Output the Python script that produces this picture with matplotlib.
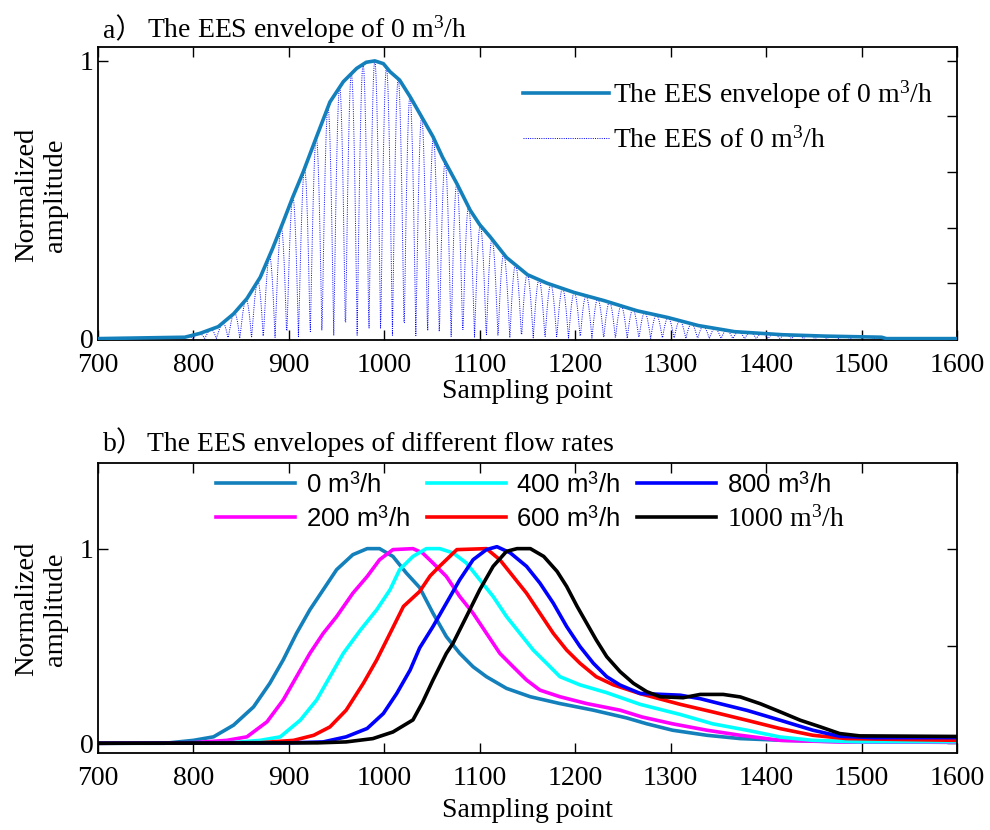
import numpy as np
import matplotlib
matplotlib.use("Agg")
import matplotlib.pyplot as plt

plt.rcParams['font.family'] = ['Liberation Serif', 'Noto Sans CJK SC']
plt.rcParams['mathtext.fontset'] = 'custom'
plt.rcParams['mathtext.rm'] = 'Liberation Serif'
plt.rcParams['mathtext.it'] = 'Liberation Serif:italic'
plt.rcParams['mathtext.sf'] = 'Liberation Sans'

# ---- (a) EES envelope of 0 m3/h ----
env_s = [700, 791, 807, 826, 842, 856, 870, 883, 894, 904, 915, 929, 943, 957, 971, 981,
         990, 999, 1006, 1016, 1027, 1041, 1051, 1061, 1076, 1090, 1100, 1111, 1128,
         1150, 1170, 1199, 1230, 1265, 1297, 1329, 1367, 1417, 1462, 1521, 1526, 1600]
env_v = [0, 0.005, 0.019, 0.043, 0.089, 0.144, 0.221, 0.325, 0.42, 0.509, 0.60, 0.727,
         0.852, 0.925, 0.973, 0.995, 1.0, 0.99, 0.961, 0.931, 0.871, 0.787, 0.727, 0.653,
         0.558, 0.462, 0.41, 0.366, 0.292, 0.23, 0.20, 0.166, 0.137, 0.10, 0.076, 0.047,
         0.025, 0.014, 0.009, 0.005, 0, 0]
carrier_period = 12.3   # samples per carrier cycle
carrier_peak = 990      # sample of the central carrier crest

# ---- (b) envelopes for the different flow rates ----
flow_labels = ['0', '200', '400', '600', '800', '1000']

q0_s = [700, 770, 800, 821, 842, 863, 880, 894, 908, 922, 936, 950, 967, 982, 995, 1009,
        1023, 1037, 1051, 1065, 1079, 1093, 1107, 1128, 1153, 1184, 1219, 1254, 1275,
        1302, 1338, 1373, 1418, 1488, 1600]
q0_v = [0, 0, 0.015, 0.033, 0.093, 0.187, 0.308, 0.428, 0.565, 0.686, 0.789, 0.892, 0.969,
        1.0, 1.0, 0.96, 0.875, 0.80, 0.668, 0.548, 0.462, 0.393, 0.342, 0.282, 0.239,
        0.204, 0.170, 0.13, 0.10, 0.067, 0.041, 0.024, 0.015, 0.007, 0.005]

q200_s = [700, 800, 835, 856, 877, 894, 908, 922, 936, 950, 967, 982, 995, 1009, 1030,
          1040, 1051, 1065, 1079, 1093, 1107, 1121, 1135, 1149, 1163, 1184, 1212, 1247,
          1270, 1302, 1338, 1373, 1415, 1477, 1600]
q200_v = [0, 0.003, 0.015, 0.033, 0.110, 0.222, 0.342, 0.462, 0.565, 0.651, 0.771, 0.857,
          0.943, 0.995, 1.0, 0.978, 0.926, 0.857, 0.754, 0.668, 0.565, 0.462, 0.393, 0.325,
          0.273, 0.239, 0.204, 0.170, 0.135, 0.10, 0.067, 0.041, 0.015, 0.007, 0.005]

q400_s = [700, 840, 870, 891, 912, 929, 943, 957, 975, 992, 1006, 1016, 1030, 1044, 1058,
          1072, 1086, 1100, 1114, 1128, 1142, 1156, 1170, 1184, 1205, 1233, 1268, 1310,
          1344, 1380, 1415, 1449, 1495, 1600]
q400_v = [0, 0.003, 0.015, 0.033, 0.119, 0.222, 0.342, 0.462, 0.582, 0.686, 0.789, 0.892,
          0.960, 1.0, 1.0, 0.978, 0.926, 0.840, 0.754, 0.651, 0.565, 0.479, 0.411, 0.342,
          0.300, 0.260, 0.200, 0.148, 0.10, 0.067, 0.032, 0.015, 0.008, 0.008]

q600_s = [700, 870, 905, 926, 943, 960, 978, 992, 1006, 1020, 1037, 1048, 1058, 1076, 1107,
          1121, 1135, 1149, 1163, 1177, 1191, 1205, 1222, 1240, 1268, 1310, 1344, 1380,
          1415, 1449, 1484, 1548, 1600]
q600_v = [0, 0.003, 0.015, 0.041, 0.084, 0.170, 0.308, 0.428, 0.565, 0.703, 0.78, 0.86,
          0.91, 0.995, 1.0, 0.943, 0.857, 0.771, 0.668, 0.565, 0.479, 0.411, 0.342, 0.300,
          0.255, 0.20, 0.161, 0.118, 0.075, 0.041, 0.024, 0.019, 0.015]

q800_s = [700, 900, 936, 960, 982, 999, 1013, 1027, 1037, 1051, 1065, 1079, 1093, 1107,
          1118, 1132, 1149, 1163, 1177, 1191, 1205, 1219, 1233, 1247, 1268, 1310, 1331,
          1352, 1380, 1415, 1449, 1477, 1512, 1600]
q800_v = [0, 0.002, 0.007, 0.033, 0.076, 0.153, 0.256, 0.376, 0.49, 0.600, 0.720, 0.840,
          0.943, 0.995, 1.01, 0.978, 0.909, 0.823, 0.720, 0.600, 0.497, 0.411, 0.342, 0.299,
          0.256, 0.247, 0.229, 0.203, 0.169, 0.118, 0.067, 0.036, 0.029, 0.029]

q1000_s = [700, 930, 960, 988, 1009, 1030, 1040, 1051, 1065, 1072, 1086, 1100, 1114, 1128,
           1139, 1153, 1167, 1181, 1191, 1202, 1212, 1222, 1233, 1247, 1261, 1275, 1289,
           1313, 1331, 1355, 1373, 1394, 1415, 1436, 1457, 1477, 1498, 1600]
q1000_v = [0, 0.002, 0.007, 0.024, 0.058, 0.12, 0.21, 0.325, 0.462, 0.514, 0.651, 0.789,
           0.909, 0.986, 1.0, 1.0, 0.960, 0.883, 0.806, 0.703, 0.617, 0.531, 0.445, 0.368,
           0.308, 0.265, 0.239, 0.234, 0.251, 0.251, 0.238, 0.203, 0.161, 0.118, 0.084,
           0.050, 0.038, 0.035]

flow_s = [q0_s, q200_s, q400_s, q600_s, q800_s, q1000_s]
flow_v = [q0_v, q200_v, q400_v, q600_v, q800_v, q1000_v]
flow_colors = ['#1380BC', '#FF00FF', '#00FFFF', '#FF0000', '#0000FF', '#000000']

FS = 20
W, H = 990, 830
fig = plt.figure(figsize=(W / 100, H / 100), dpi=100)


def style_axes(ax, yticks, ylabels):
    ax.set_xlim(700, 1600)
    ax.set_xticks(np.arange(700, 1601, 100))
    ax.set_yticks(yticks)
    ax.set_yticklabels(ylabels)
    ax.tick_params(axis='both', which='major', direction='in', length=7, width=1.0,
                   labelsize=FS, top=True, right=True)
    ax.tick_params(axis='x', pad=9)
    ax.tick_params(axis='y', pad=3)
    for t in ax.yaxis.get_major_ticks()[1:-1]:
        t.tick1line.set_visible(False)
    for sp in ax.spines.values():
        sp.set_linewidth(1.3)


# panel a
ax1 = fig.add_axes([98 / W, 1 - 340 / H, 859 / W, 293 / H])
samples = np.arange(700, 1600.01, 0.5)
envelope = np.interp(samples, env_s, env_v)
ees = envelope * np.abs(np.cos(np.pi * (samples - carrier_peak) / carrier_period))
ax1.plot(samples, ees, color='#0000FF', linestyle=(0, (1, 1.3)), linewidth=0.7,
         label=r'The EES of 0 m$^3$/h', zorder=2)
ax1.plot(env_s, env_v, color='#1380BC', linewidth=2.6,
         label=r'The EES envelope of 0 m$^3$/h', zorder=3)
ax1.set_ylim(-0.005, 1.05)
style_axes(ax1, [0, 0.2, 0.4, 0.6, 0.8, 1.0], ['0', '', '', '', '', '1'])
h, l = ax1.get_legend_handles_labels()
ax1.legend(h[::-1], l[::-1], loc='upper left', bbox_to_anchor=(0.495, 0.893),
           frameon=False, fontsize=FS, handlelength=3.1, handletextpad=0.12,
           labelspacing=0.6, borderpad=0, borderaxespad=0)

# panel b
ax2 = fig.add_axes([98 / W, 1 - 753 / H, 859 / W, 290 / H])
for lab, xs, ys, c in zip(flow_labels, flow_s, flow_v, flow_colors):
    if lab == '1000':
        txt = lab + r' m$^3$/h'
    else:
        txt = lab + r' m$^\mathsf{3}$/h'
    ax2.plot(xs, ys, color=c, linewidth=2.6, label=txt)
ax2.set_ylim(-0.05, 1.44)
style_axes(ax2, [0, 0.5, 1.0], ['0', '', '1'])
leg2 = ax2.legend(loc='upper left', bbox_to_anchor=(0.1375, 0.968), ncol=3,
                  frameon=False, fontsize=FS, handlelength=2.85, handletextpad=0.38,
                  columnspacing=0.6, labelspacing=0.28, borderpad=0, borderaxespad=0)
for txt in leg2.get_texts()[:5]:
    txt.set_fontfamily('Liberation Sans')
    txt.set_fontsize(18.5)

# titles and axis labels
for tag, body, yb in [('a）', 'The EES envelope of 0 m$^3$/h', 38),
                      ('b）', 'The EES envelopes of different flow rates', 451)]:
    fig.text(103 / W, 1 - yb / H, tag, fontsize=FS, ha='left', va='baseline')
    fig.text(147 / W, 1 - yb / H, body, fontsize=FS, ha='left', va='baseline')

for yc, xc in [(195, 391), (609, 810)]:
    fig.text(41 / W, 1 - yc / H, 'Normalized\namplitude', rotation=90, fontsize=FS + 0.5,
             ha='center', va='center', multialignment='center', linespacing=1.22)
    fig.text(527 / W, 1 - xc / H, 'Sampling point', fontsize=FS, ha='center',
             va='center')

fig.savefig('out.png', dpi=100)
